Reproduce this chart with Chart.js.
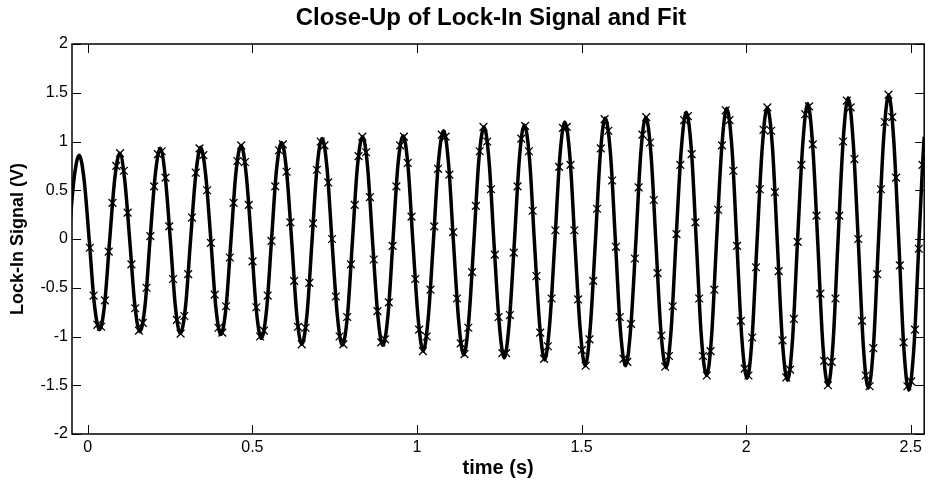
<!DOCTYPE html>
<html>
<head>
<meta charset="utf-8">
<script src="https://cdn.jsdelivr.net/npm/chart.js@4.4.0/dist/chart.umd.min.js"></script>
<style>
	html, body { margin: 0; padding: 0; background: #fff; }
	#chartDiv { width: 931px; height: 482px; }
</style>
</head>
<body>
<div id="chartDiv"><canvas id="myChart" width="931" height="482"></canvas></div>
<script>

const titleText = 'Close-Up of Lock-In Signal and Fit';

// tick labels
const xTicks = [0, 0.5, 1, 1.5, 2, 2.5];
const yTicks = [-2, -1.5, -1, -0.5, 0, 0.5, 1, 1.5, 2];

// fit curve (s, V)
const fitTime = [
	-0.057,-0.041,-0.026,-0.011,0.005,0.020,0.036,0.051,0.066,0.082,
	0.097,0.112,0.128,0.143,0.158,0.174,0.189,0.205,0.220,0.235,
	0.251,0.266,0.281,0.297,0.312,0.328,0.343,0.358,0.374,0.389,
	0.404,0.420,0.435,0.450,0.466,0.481,0.497,0.512,0.527,0.543,
	0.558,0.573,0.589,0.604,0.620,0.635,0.650,0.666,0.681,0.696,
	0.712,0.727,0.742,0.758,0.773,0.789,0.804,0.819,0.835,0.850,
	0.865,0.881,0.896,0.912,0.927,0.942,0.958,0.973,0.988,1.004,
	1.019,1.034,1.050,1.065,1.081,1.096,1.111,1.127,1.142,1.157,
	1.173,1.188,1.204,1.219,1.234,1.250,1.265,1.280,1.296,1.311,
	1.326,1.342,1.357,1.373,1.388,1.403,1.419,1.434,1.449,1.465,
	1.480,1.496,1.511,1.526,1.542,1.557,1.572,1.588,1.603,1.618,
	1.634,1.649,1.665,1.680,1.695,1.711,1.726,1.741,1.757,1.772,
	1.787,1.803,1.818,1.834,1.849,1.864,1.880,1.895,1.910,1.926,
	1.941,1.957,1.972,1.987,2.003,2.018,2.033,2.049,2.064,2.080,
	2.095,2.110,2.126,2.141,2.156,2.172,2.187,2.202,2.218,2.233,
	2.249,2.264,2.279,2.295,2.310,2.325,2.341,2.356,2.371,2.387,
	2.402,2.418,2.433,2.448,2.464,2.479,2.494,2.510,2.525,2.541,
	2.556
];
const fitValue = [
	0.05,0.64,0.86,0.60,-0.04,-0.67,-0.93,-0.67,-0.03,0.62,
	0.88,0.61,-0.04,-0.68,-0.95,-0.68,-0.01,0.66,0.93,0.65,
	-0.02,-0.69,-0.97,-0.69,-0.02,0.66,0.94,0.66,-0.02,-0.70,
	-0.98,-0.70,-0.01,0.68,0.96,0.67,-0.03,-0.73,-1.02,-0.73,
	-0.02,0.70,0.99,0.69,-0.05,-0.78,-1.08,-0.77,-0.03,0.72,
	1.03,0.72,-0.03,-0.78,-1.09,-0.78,-0.02,0.74,1.05,0.74,
	-0.02,-0.78,-1.09,-0.78,-0.02,0.75,1.06,0.74,-0.05,-0.83,
	-1.15,-0.82,-0.02,0.78,1.11,0.77,-0.04,-0.85,-1.19,-0.85,
	-0.02,0.81,1.15,0.80,-0.04,-0.87,-1.22,-0.87,-0.03,0.82,
	1.17,0.82,-0.04,-0.89,-1.24,-0.88,-0.02,0.84,1.20,0.83,
	-0.05,-0.93,-1.30,-0.93,-0.03,0.87,1.24,0.87,-0.03,-0.93,
	-1.30,-0.93,-0.03,0.88,1.25,0.87,-0.04,-0.94,-1.32,-0.94,
	-0.01,0.92,1.30,0.90,-0.05,-1.00,-1.40,-1.00,-0.03,0.94,
	1.34,0.93,-0.05,-1.02,-1.43,-1.02,-0.04,0.94,1.35,0.94,
	-0.05,-1.04,-1.45,-1.03,-0.03,0.97,1.39,0.97,-0.06,-1.08,
	-1.50,-1.07,-0.03,1.02,1.45,1.01,-0.04,-1.09,-1.53,-1.09,
	-0.03,1.04,1.48,1.04,-0.04,-1.11,-1.55,-1.10,-0.03,1.05,
	1.50
];

// measured lock-in samples (s, V)
const sampleTime = [
	0.006,0.0175,0.029,0.0405,0.052,0.0635,0.075,0.0865,0.098,0.1095,
	0.121,0.1325,0.144,0.1555,0.167,0.1785,0.190,0.2015,0.213,0.2245,
	0.236,0.2475,0.259,0.2705,0.282,0.2935,0.305,0.3165,0.328,0.3395,
	0.351,0.3625,0.374,0.3855,0.397,0.4085,0.420,0.4315,0.443,0.4545,
	0.466,0.4775,0.489,0.5005,0.512,0.5235,0.535,0.5465,0.558,0.5695,
	0.581,0.5925,0.604,0.6155,0.627,0.6385,0.650,0.6615,0.673,0.6845,
	0.696,0.7075,0.719,0.7305,0.742,0.7535,0.765,0.7765,0.788,0.7995,
	0.811,0.8225,0.834,0.8455,0.857,0.8685,0.880,0.8915,0.903,0.9145,
	0.926,0.9375,0.949,0.9605,0.972,0.9835,0.995,1.0065,1.018,1.0295,
	1.041,1.0525,1.064,1.0755,1.087,1.0985,1.110,1.1215,1.133,1.1445,
	1.156,1.1675,1.179,1.1905,1.202,1.2135,1.225,1.2365,1.248,1.2595,
	1.271,1.2825,1.294,1.3055,1.317,1.3285,1.340,1.3515,1.363,1.3745,
	1.386,1.3975,1.409,1.4205,1.432,1.4435,1.455,1.4665,1.478,1.4895,
	1.501,1.5125,1.524,1.5355,1.547,1.5585,1.570,1.5815,1.593,1.6045,
	1.616,1.6275,1.639,1.6505,1.662,1.6735,1.685,1.6965,1.708,1.7195,
	1.731,1.7425,1.754,1.7655,1.777,1.7885,1.800,1.8115,1.823,1.8345,
	1.846,1.8575,1.869,1.8805,1.892,1.9035,1.915,1.9265,1.938,1.9495,
	1.961,1.9725,1.984,1.9955,2.007,2.0185,2.030,2.0415,2.053,2.0645,
	2.076,2.0875,2.099,2.1105,2.122,2.1335,2.145,2.1565,2.168,2.1795,
	2.191,2.2025,2.214,2.2255,2.237,2.2485,2.260,2.2715,2.283,2.2945,
	2.306,2.3175,2.329,2.3405,2.352,2.3635,2.375,2.3865,2.398,2.4095,
	2.421,2.4325,2.444,2.4555,2.467,2.4785,2.490,2.5015,2.513,2.5245,
	2.536
];
const sampleValue = [
	-0.09,-0.58,-0.88,-0.90,-0.63,-0.13,0.37,0.75,0.88,0.70,
	0.27,-0.26,-0.71,-0.94,-0.86,-0.50,0.03,0.54,0.87,0.90,
	0.63,0.13,-0.41,-0.83,-0.97,-0.79,-0.36,0.22,0.68,0.93,
	0.86,0.50,-0.04,-0.57,-0.91,-0.96,-0.69,-0.19,0.37,0.80,
	0.96,0.79,0.35,-0.23,-0.70,-1.00,-0.94,-0.58,-0.02,0.54,
	0.91,0.97,0.69,0.17,-0.43,-0.90,-1.08,-0.91,-0.45,0.16,
	0.71,1.00,0.96,0.58,0.00,-0.59,-1.00,-1.08,-0.80,-0.26,
	0.35,0.85,1.05,0.89,0.43,-0.21,-0.74,-1.06,-1.03,-0.65,
	-0.07,0.54,0.96,1.05,0.78,0.23,-0.41,-0.93,-1.15,-1.00,
	-0.52,0.13,0.72,1.07,1.05,0.66,0.07,-0.61,-1.07,-1.18,
	-0.91,-0.34,0.34,0.90,1.15,1.00,0.51,-0.16,-0.80,-1.17,
	-1.17,-0.78,-0.14,0.54,1.03,1.16,0.90,0.29,-0.38,-0.96,
	-1.23,-1.10,-0.61,0.09,0.74,1.14,1.15,0.76,0.09,-0.62,
	-1.14,-1.30,-1.03,-0.43,0.31,0.93,1.23,1.11,0.60,-0.08,
	-0.80,-1.23,-1.26,-0.87,-0.20,0.53,1.07,1.25,0.99,0.40,
	-0.35,-0.99,-1.31,-1.20,-0.69,0.05,0.76,1.22,1.26,0.87,
	0.17,-0.61,-1.20,-1.40,-1.15,-0.52,0.30,0.96,1.32,1.22,
	0.70,-0.07,-0.84,-1.33,-1.40,-1.01,-0.29,0.51,1.12,1.35,
	1.11,0.48,-0.33,-1.04,-1.42,-1.34,-0.82,-0.03,0.76,1.28,
	1.36,0.97,0.24,-0.56,-1.25,-1.50,-1.26,-0.61,0.24,1.00,
	1.42,1.35,0.82,0.00,-0.84,-1.40,-1.51,-1.12,-0.36,0.51,
	1.20,1.48,1.25,0.63,-0.27,-1.06,-1.51,-1.46,-0.93,-0.10,
	0.76
];

Chart.defaults.font.family = "'Liberation Sans', Arial, sans-serif";
Chart.defaults.color = '#000';

// box around the axes with inward tick marks (matlab look) + title
const boxPlugin = {
	id: 'boxPlugin',
	afterDatasetsDraw(chart) {
		const ctx = chart.ctx;
		const a = chart.chartArea;
		const x = chart.scales.x;
		const y = chart.scales.y;
		const len = 9;
		ctx.save();
		ctx.strokeStyle = '#000';
		ctx.lineWidth = 1.5;
		ctx.strokeRect(a.left, a.top, a.right - a.left, a.bottom - a.top);
		ctx.lineWidth = 1;
		ctx.beginPath();
		x.ticks.forEach(t => {
			const px = Math.round(x.getPixelForValue(t.value)) + 0.5;
			ctx.moveTo(px, a.bottom); ctx.lineTo(px, a.bottom - len);
			ctx.moveTo(px, a.top); ctx.lineTo(px, a.top + len);
		});
		y.ticks.forEach(t => {
			const py = Math.round(y.getPixelForValue(t.value)) + 0.5;
			ctx.moveTo(a.left, py); ctx.lineTo(a.left + len, py);
			ctx.moveTo(a.right, py); ctx.lineTo(a.right - len, py);
		});
		ctx.stroke();

		// title, a bit left of the axes centre like the original
		ctx.fillStyle = '#000';
		ctx.font = "bold 24px 'Liberation Sans', Arial, sans-serif";
		ctx.textAlign = 'center';
		ctx.textBaseline = 'middle';
		ctx.fillText(titleText, 491, 18);
		ctx.restore();
	}
};

const ctx = document.getElementById('myChart');

new Chart(ctx, {
	type: 'line',
	data: {
		datasets: [{
			label: 'data',
			data: sampleTime.map((t, i) => ({ x: t, y: sampleValue[i] })),
			showLine: false,
			pointStyle: 'crossRot',
			pointRadius: 5.5,
			pointBorderWidth: 1.3,
			pointBorderColor: '#000',
			pointBackgroundColor: '#000'
		}, {
			label: 'fit',
			data: fitTime.map((t, i) => ({ x: t, y: fitValue[i] })),
			borderColor: '#000',
			borderWidth: 3.5,
			pointRadius: 0,
			cubicInterpolationMode: 'monotone'
		}]
	},
	options: {
		responsive: false,
		animation: false,
		devicePixelRatio: 1,
		layout: { padding: { left: 0, right: 2, top: 44, bottom: 0 } },
		plugins: {
			legend: { display: false },
			tooltip: { enabled: false },
			title: { display: false }
		},
		scales: {
			x: {
				type: 'linear',
				min: -0.048,
				max: 2.541,
				afterBuildTicks: s => { s.ticks = xTicks.map(v => ({ value: v })); },
				afterFit: s => { s.height = 48; },
				grid: { display: false, drawTicks: false },
				border: { display: false },
				ticks: {
					autoSkip: false,
					maxRotation: 0,
					padding: 4,
					font: { size: 16 },
					callback: v => String(v)
				},
				title: {
					display: true,
					text: 'time (s)',
					font: { size: 20, weight: 'bold' },
					padding: { top: 0, bottom: 2 }
				}
			},
			y: {
				min: -2,
				max: 2,
				afterBuildTicks: s => { s.ticks = yTicks.map(v => ({ value: v })); },
				afterFit: s => { s.width = 72; },
				grid: { display: false, drawTicks: false },
				border: { display: false },
				ticks: {
					autoSkip: false,
					padding: 4,
					font: { size: 16 },
					callback: v => String(v)
				},
				title: {
					display: true,
					text: 'Lock-In Signal (V)',
					font: { size: 18, weight: 'bold' },
					padding: { top: 7, bottom: 0 }
				}
			}
		}
	},
	plugins: [boxPlugin]
});
</script>
</body>
</html>
